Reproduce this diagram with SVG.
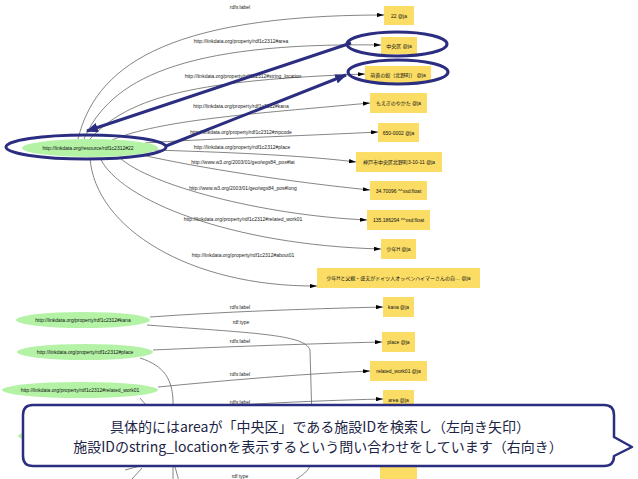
<svg xmlns="http://www.w3.org/2000/svg" width="638" height="479" viewBox="0 0 638 479">
<defs>
<style>
.edge{fill:none;stroke:#666;stroke-width:0.8}
.edgea{fill:none;stroke:#666;stroke-width:0.8;marker-end:url(#ah)}
.elab{font-family:"Liberation Sans","Noto Sans CJK JP",sans-serif;font-size:5px;fill:#222;text-anchor:middle}
.res{fill:#b4f3a6;stroke:none}
.lit{fill:#fbdd66;stroke:none}
.ntxt{font-family:"Liberation Sans","Noto Sans CJK JP",sans-serif;font-size:5px;fill:#111;text-anchor:middle;dominant-baseline:central}
.hl{fill:none;stroke:#2b2e80;stroke-width:3}
.hla{fill:none;stroke:#2b2e80;stroke-width:3;marker-end:url(#bh)}
.call{fill:#fff;stroke:#2b2e80;stroke-width:2.5;stroke-linejoin:round}
.ctxt{font-family:"Noto Sans CJK JP",sans-serif;font-size:14px;fill:#1c2445;text-anchor:middle}
</style>
<marker id="ah" viewBox="0 0 10 6" refX="10" refY="3" markerWidth="7" markerHeight="4.2" markerUnits="userSpaceOnUse" orient="auto"><path d="M0,0 L10,3 L0,6 z" fill="#000"/></marker>
<marker id="bh" viewBox="0 0 10 8" refX="9" refY="4" markerWidth="12" markerHeight="9.6" markerUnits="userSpaceOnUse" orient="auto"><path d="M0,0 L10,4 L0,8 z" fill="#2b2e80"/></marker>
</defs>
<rect width="638" height="479" fill="#fff"/>

<g id="connectors">
<path class="edgea" d="M78,139 C95,70 160,15 384,15"/>
<path class="edgea" d="M84,139 C110,80 180,42 381,45"/>
<path class="edgea" d="M90,139 C130,95 200,80 365,74"/>
<path class="edgea" d="M112,140 C160,120 250,114 370,103"/>
<path class="edgea" d="M145,143 C200,139 300,136 378,132"/>
<path class="edgea" d="M152,150 C220,152 300,155 356,162"/>
<path class="edgea" d="M142,155 C200,168 290,182 370,190"/>
<path class="edgea" d="M120,158 C150,185 260,215 367,220"/>
<path class="edgea" d="M100,158 C120,200 230,245 381,249"/>
<path class="edgea" d="M90,158 C95,228 190,287 317,286"/>
<text class="elab" x="240" y="9">rdfs:label</text>
<text class="elab" x="241" y="43">http://linkdata.org/property/rdf1c2312#area</text>
<text class="elab" x="243" y="78">http://linkdata.org/property/rdf1c2312#string_location</text>
<text class="elab" x="241" y="108">http://linkdata.org/property/rdf1c2312#kana</text>
<text class="elab" x="241" y="134">http://linkdata.org/property/rdf1c2312#zipcode</text>
<text class="elab" x="242" y="149">http://linkdata.org/property/rdf1c2312#place</text>
<text class="elab" x="243" y="164">http://www.w3.org/2003/01/geo/wgs84_pos#lat</text>
<text class="elab" x="243" y="190">http://www.w3.org/2003/01/geo/wgs84_pos#long</text>
<text class="elab" x="243" y="221">http://linkdata.org/property/rdf1c2312#related_work01</text>
<text class="elab" x="243" y="257">http://linkdata.org/property/rdf1c2312#about01</text>

<path class="edgea" d="M150,317 C220,312 300,309 383,307"/>
<path class="edge" d="M147,325 C250,333 305,334 310,350 L313,455 C313,470 300,478 285,485"/>
<path class="edgea" d="M153,350 C220,347 300,344 382,342"/>
<path class="edge" d="M140,358 C165,366 172,380 173,400 L173,485"/>
<path class="edgea" d="M158,387 C230,380 300,374 370,371"/>
<path class="edge" d="M140,398 C150,410 160,420 165,430 L180,485"/>
<path class="edgea" d="M160,410 C230,405 300,401 383,399"/>
<path class="edge" d="M125,470 L140,466 L145,462"/>
<path class="edge" d="M132,479 L142,468"/>
<text class="elab" x="240" y="309">rdfs:label</text>
<text class="elab" x="241" y="324">rdf:type</text>
<text class="elab" x="240" y="343">rdfs:label</text>
<text class="elab" x="240" y="376">rdfs:label</text>
<text class="elab" x="240" y="404">rdfs:label</text>
<text class="elab" x="240" y="478">rdf:type</text>
</g>

<g id="n-main"><ellipse class="res" cx="90" cy="148" rx="68" ry="9"/><text class="ntxt" x="88" y="148">http://linkdata.org/resource/rdf1c2312#22</text></g>
<g id="n-22"><rect class="lit" x="384" y="6" width="30" height="19"/><text class="ntxt" x="399" y="15.5">22 @ja</text></g>
<g id="n-chuo"><rect class="lit" x="381" y="37" width="36" height="17"/><text class="ntxt" x="399" y="45.5">中央区 @ja</text></g>
<g id="n-moegi"><rect class="lit" x="365" y="66" width="66" height="17"/><text class="ntxt" x="398" y="74.5">萌黄の館（北野町） @ja</text></g>
<g id="n-kana"><rect class="lit" x="370" y="93" width="57" height="20"/><text class="ntxt" x="398.5" y="103">もえぎのやかた @ja</text></g>
<g id="n-zip"><rect class="lit" x="378" y="123" width="41" height="19"/><text class="ntxt" x="398.5" y="132.5">650-0002 @ja</text></g>
<g id="n-place"><rect class="lit" x="356" y="152" width="86" height="20"/><text class="ntxt" x="399" y="162">神戸市中央区北野町3-10-11 @ja</text></g>
<g id="n-lat"><rect class="lit" x="370" y="181" width="57" height="19"/><text class="ntxt" x="398.5" y="190.5">34.70096 ^^xsd:float</text></g>
<g id="n-long"><rect class="lit" x="367" y="210" width="63" height="20"/><text class="ntxt" x="398.5" y="220">135.186294 ^^xsd:float</text></g>
<g id="n-work"><rect class="lit" x="381" y="239" width="35" height="20"/><text class="ntxt" x="398.5" y="249">少年H @ja</text></g>
<g id="n-about"><rect class="lit" x="317" y="268" width="163" height="20"/><text class="ntxt" x="398.5" y="278">少年Hと父親・盛夫がドイツ人オッペンハイマーさんの自… @ja</text></g>

<g id="p-kana"><ellipse class="res" cx="83" cy="320" rx="67" ry="8"/><text class="ntxt" x="83" y="320">http://linkdata.org/property/rdf1c2312#kana</text></g>
<g id="p-place"><ellipse class="res" cx="85" cy="352" rx="68" ry="8"/><text class="ntxt" x="85" y="352">http://linkdata.org/property/rdf1c2312#place</text></g>
<g id="p-work"><ellipse class="res" cx="80" cy="390" rx="78" ry="8"/><text class="ntxt" x="80" y="390">http://linkdata.org/property/rdf1c2312#related_work01</text></g>
<g id="p-area"><ellipse class="res" cx="85" cy="436" rx="67" ry="8"/></g>
<g id="l-kana"><rect class="lit" x="383" y="297" width="31" height="20"/><text class="ntxt" x="398.5" y="307">kana @ja</text></g>
<g id="l-place"><rect class="lit" x="382" y="332" width="33" height="20"/><text class="ntxt" x="398.5" y="342">place @ja</text></g>
<g id="l-work"><rect class="lit" x="370" y="361" width="57" height="20"/><text class="ntxt" x="398.5" y="371">related_work01 @ja</text></g>
<g id="l-area"><rect class="lit" x="383" y="390" width="31" height="19"/><text class="ntxt" x="398.5" y="399.5">area @ja</text></g>
<g id="l-bottom"><rect class="lit" x="380" y="466" width="37" height="20"/></g>

<g id="highlights">
<ellipse class="hl" cx="86" cy="147" rx="80" ry="12"/>
<ellipse class="hl" cx="397" cy="44" rx="50" ry="12"/>
<ellipse class="hl" cx="398" cy="72" rx="50" ry="12"/>
<path class="hla" d="M351,43 L87,131"/>
<path class="hla" d="M166,146 L346,75"/>
</g>

<g id="callout">
<path class="call" d="M33,405 H604 Q614,405 614,415 V437 L632,447 L614,456 V456 Q614,466 604,466 H33 Q23,466 23,456 V415 Q23,405 33,405 Z"/>
<text class="ctxt" x="320" y="432">具体的にはareaが「中央区」である施設IDを検索し（左向き矢印）</text>
<text class="ctxt" x="318" y="452">施設IDのstring_locationを表示するという問い合わせをしています（右向き）</text>
</g>
</svg>
